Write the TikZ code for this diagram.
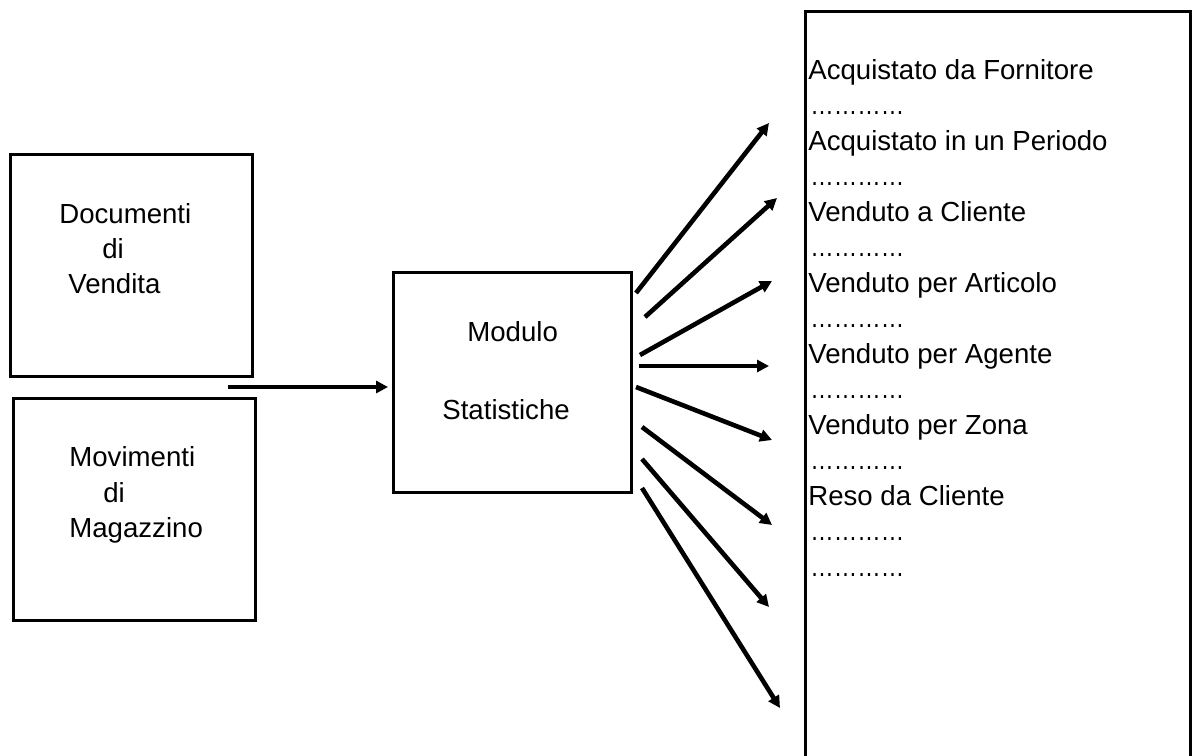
\documentclass[tikz,border=0pt]{standalone}
\usepackage{fontspec}
\setmainfont{Liberation Sans}
\newfontfamily\dotsfont[FakeStretch=0.85]{Liberation Sans}
\usetikzlibrary{arrows.meta}
\begin{document}
\begin{tikzpicture}[x=0.5pt,y=-0.5pt,
  box/.style={draw, line width=1.5pt, rectangle, anchor=north west, inner sep=0pt, outer sep=0pt},
  lbl/.style={anchor=base west, inner sep=0pt, font=\fontsize{13.8pt}{16pt}\selectfont},
  dotl/.style={anchor=base west, inner sep=0pt, font=\dotsfont\fontsize{13.8pt}{16pt}\selectfont},
  arr/.style={line width=2.3pt, -{Triangle[length=6pt,width=6pt]}}]
\useasboundingbox (0,0) rectangle (1194,755);
\clip (0,0) rectangle (1194,755);
\fill[white] (0,0) rectangle (1194,755);
% boxes
\node[box, minimum width=121pt, minimum height=111pt] (doc) at (10,154) {};
\node[box, minimum width=121pt, minimum height=111pt] (mov) at (13,398) {};
\node[box, minimum width=119pt, minimum height=110pt] (mod) at (393,272) {};
\node[box, minimum width=192.5pt, minimum height=376pt] (out) at (805,11) {};
% box texts
\node[lbl] (d1) at (59,223) {Documenti};
\node[lbl] (d2) at (102,258) {di};
\node[lbl] (d3) at (68,293) {Vendita};
\node[lbl] (m1) at (69,466) {Movimenti};
\node[lbl] (m2) at (103,502) {di};
\node[lbl] (m3) at (69,537) {Magazzino};
\node[lbl] (s1) at (467,341) {Modulo};
\node[lbl] (s2) at (442,419) {Statistiche};
% list
\foreach \t [count=\i from 0] in {Acquistato da Fornitore,Acquistato in un Periodo,Venduto a Cliente,Venduto per Articolo,Venduto per Agente,Venduto per Zona,Reso da Cliente}{
  \node[lbl] (r\i) at (808,79+71*\i) {\t};
  \node[dotl] (p\i) at (810,114.5+71*\i) {…………};
}
\node[dotl] (p7) at (810,114.5+71*6+35.5) {…………};
% input arrow
\coordinate (in0) at (228,387);
\coordinate (in1) at (388,387);
\draw[arr] (in0) -- (in1);
% fan arrows
\foreach \k/\sx/\sy/\ex/\ey in {1/636/293/769/123, 2/645/317/777/198, 3/640/355/772/281, 4/639/366/769/366, 5/636/387/772/440, 6/642/427/772/525, 7/642/459/769/607, 8/642/488/780/708}{
  \coordinate (a\k) at (\sx,\sy);
  \coordinate (b\k) at (\ex,\ey);
  \draw[arr] (a\k) -- (b\k);
}
\end{tikzpicture}
\end{document}
